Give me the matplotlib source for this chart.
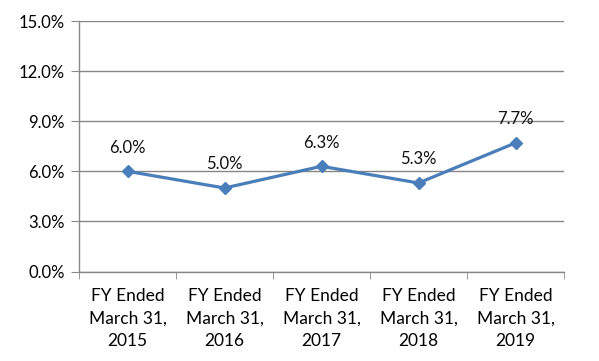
import numpy as np
import matplotlib.pyplot as plt

categories = ['FY Ended\nMarch 31,\n2015', 'FY Ended\nMarch 31,\n2016', 'FY Ended\nMarch 31,\n2017',
              'FY Ended\nMarch 31,\n2018', 'FY Ended\nMarch 31,\n2019']
values = [6.0, 5.0, 6.3, 5.3, 7.7]
yticks = [0, 3, 6, 9, 12, 15]

plt.rcParams['font.family'] = ['Lato', 'DejaVu Sans']

fig = plt.figure(figsize=(5.99, 3.61), dpi=100)
ax = fig.add_axes([79 / 599, 1 - 271.5 / 361, (564 - 79) / 599, (271.5 - 21) / 361])

x = np.arange(len(values))
ax.plot(x, values, color='#4A7EBB', linewidth=2.3, marker='D', markersize=6.5, zorder=3)
for xi, v in zip(x, values):
    ax.annotate(f'{v:.1f}%', (xi, v), xytext=(0, 17), textcoords='offset points',
                ha='center', va='center', fontsize=12, color='#111111')

ax.set_xlim(-0.5, len(values) - 0.5)
ax.set_ylim(0, 15)
ax.set_yticks(yticks)
ax.set_yticklabels([f'{t:.1f}%' for t in yticks], fontsize=12)
ax.set_xticks(x)
ax.set_xticklabels(categories, fontsize=12.5, linespacing=1.5)
ax.set_xticks(np.arange(-0.5, len(values)), minor=True)
ax.tick_params(axis='x', which='major', length=0, pad=12)
ax.tick_params(axis='x', which='minor', length=5, color='#888888', direction='out')
ax.tick_params(axis='y', length=6, color='#888888', pad=4)

ax.grid(axis='y', color='#868686', linewidth=1)
ax.set_axisbelow(True)
for s in ['top', 'right']:
    ax.spines[s].set_visible(False)
for s in ['left', 'bottom']:
    ax.spines[s].set_color('#888888')
    ax.spines[s].set_linewidth(1)

fig.savefig('out.png', dpi=100)
